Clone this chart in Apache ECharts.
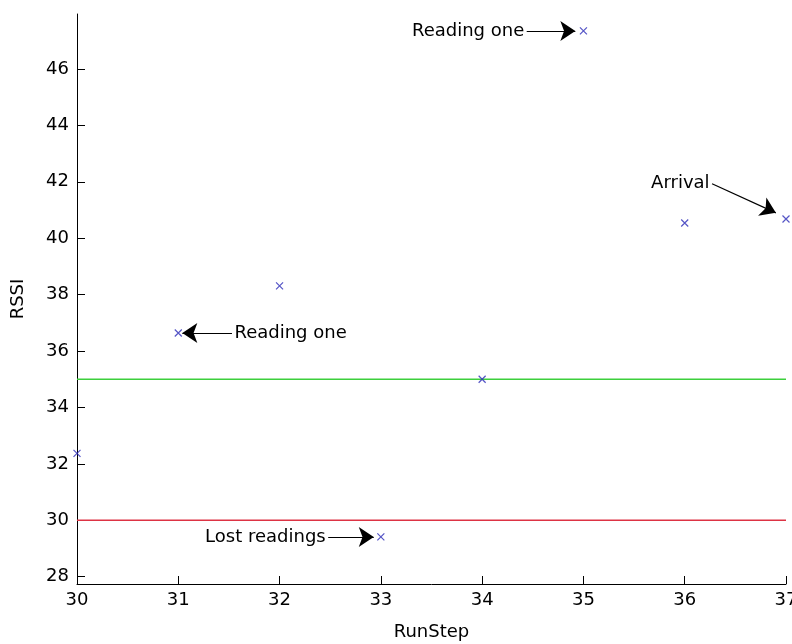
<!DOCTYPE html>
<html>
<head>
<meta charset="utf-8">
<title>RSSI per RunStep</title>
<script src="https://cdn.jsdelivr.net/npm/echarts@6/dist/echarts.min.js"></script>
<style>
  html, body { margin: 0; padding: 0; background: #ffffff; }
  #chart { width: 792px; height: 644px; }
</style>
</head>
<body>
<div id="chart"></div>
<script>
// RSSI readings for each run step
const runSteps = [30, 31, 32, 33, 34, 35, 36, 37];
const rssiValues = [32.37, 36.64, 38.31, 29.41, 35.0, 47.35, 40.54, 40.68];

// Threshold levels drawn across the whole run
const upperThreshold = 35;
const lowerThreshold = 30;

// Tick labels
const xTicks = [30, 31, 32, 33, 34, 35, 36, 37];
const yTicks = [28, 30, 32, 34, 36, 38, 40, 42, 44, 46];

// Axis extents
const xRange = [30, 37];
const yRange = [27.74, 47.95];

// Annotation arrows (tail -> head, in data units) and their text
const annotationTexts = ['Reading one', 'Arrival', 'Reading one', 'Lost readings'];
const annotationTails = [[34.44, 47.35], [36.27, 41.93], [31.53, 36.64], [32.48, 29.41]];
const annotationHeads = [[34.92, 47.35], [36.90, 40.90], [31.04, 36.64], [32.93, 29.41]];
const annotationSides = ['left', 'left', 'right', 'left'];

const FONT = 'DejaVu Sans';
const chart = echarts.init(document.getElementById('chart'), null, { renderer: 'canvas' });

const crossPath = 'path://M0,0L10,10M10,0L0,10';

const option = {
  backgroundColor: '#ffffff',
  animation: false,
  grid: { left: 77, right: 6, top: 14, bottom: 60, containLabel: false, outerBoundsMode: 'none' },
  xAxis: {
    type: 'value',
    min: xRange[0],
    max: xRange[1],
    interval: 1,
    name: 'RunStep',
    nameLocation: 'middle',
    nameGap: 39,
    nameTextStyle: { color: '#000', fontFamily: FONT, fontSize: 18 },
    axisLine: { show: true, onZero: false, lineStyle: { color: '#000', width: 1 } },
    axisTick: { show: true, inside: true, length: 8, lineStyle: { color: '#000' }, customValues: xTicks },
    axisLabel: { color: '#000', fontFamily: FONT, fontSize: 18, margin: 7, customValues: xTicks,
      showMinLabel: true, showMaxLabel: true, hideOverlap: false },
    splitLine: { show: false }
  },
  yAxis: {
    type: 'value',
    min: yRange[0],
    max: yRange[1],
    name: 'RSSI',
    nameLocation: 'middle',
    nameGap: 50,
    nameTextStyle: { color: '#000', fontFamily: FONT, fontSize: 18 },
    axisLine: { show: true, onZero: false, lineStyle: { color: '#000', width: 1 } },
    axisTick: { show: true, inside: true, length: 8, lineStyle: { color: '#000' }, customValues: yTicks },
    axisLabel: { color: '#000', fontFamily: FONT, fontSize: 18, margin: 8, customValues: yTicks },
    splitLine: { show: false }
  },
  series: [
    {
      name: 'upper',
      type: 'line',
      data: [[xRange[0], upperThreshold], [xRange[1], upperThreshold]],
      symbol: 'none',
      lineStyle: { color: '#3ccf3c', width: 1.5 },
      silent: true,
      z: 1
    },
    {
      name: 'lower',
      type: 'line',
      data: [[xRange[0], lowerThreshold], [xRange[1], lowerThreshold]],
      symbol: 'none',
      lineStyle: { color: '#dd3344', width: 1.5 },
      silent: true,
      z: 1
    },
    {
      name: 'RSSI',
      type: 'scatter',
      data: runSteps.map((s, i) => [s, rssiValues[i]]),
      symbol: crossPath,
      symbolSize: 7,
      itemStyle: { color: 'transparent', borderColor: '#2b2bb8', borderWidth: 1.2 },
      clip: false,
      z: 3,
      markLine: {
        silent: true,
        symbol: ['none', 'arrow'],
        symbolSize: 15,
        label: { show: false },
        lineStyle: { type: 'solid', color: '#000', width: 1.2 },
        itemStyle: { color: '#000' },
        emphasis: { disabled: true },
        data: annotationTails.map((t, i) => [{ coord: t }, { coord: annotationHeads[i] }])
      }
    },
    {
      name: 'notes',
      type: 'scatter',
      data: annotationTails.map((t, i) => ({
        value: t,
        label: { position: annotationSides[i] }
      })),
      symbol: 'circle',
      symbolSize: 1,
      itemStyle: { color: '#ffffff', opacity: 1 },
      silent: true,
      label: {
        show: true,
        distance: 2,
        color: '#000000',
        opacity: 1,
        fontFamily: FONT,
        fontSize: 18,
        textBorderWidth: 0,
        formatter: (p) => annotationTexts[p.dataIndex]
      },
      z: 4
    }
  ]
};

chart.setOption(option);
</script>
</body>
</html>
